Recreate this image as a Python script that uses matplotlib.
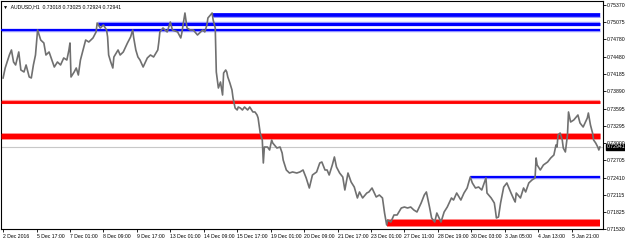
"""
Plot of the AUDUSD H1 chart with the support / resistance levels.
The price path is read by hand from the screenshot (one sample every few bars).
"""
import matplotlib
matplotlib.use('Agg')
import matplotlib.pyplot as plt

# bar index (hours of trading) and close price
bars = [0, 2, 6, 8, 10, 12, 15, 17, 20, 22, 25, 27, 29, 31, 33, 36, 39, 41, 44, 46,
        49, 52, 55, 58, 61, 63, 64, 65, 68, 70, 72, 74, 76, 79, 82, 86, 89, 90, 93, 96,
        99, 100, 101, 103, 105, 106, 110, 112, 115, 119, 122, 124, 125, 127, 129, 131, 134, 138, 141, 144,
        148, 149, 150, 153, 157, 160, 162, 167, 170, 171, 174, 176, 179, 182, 186, 189, 191, 193, 195, 196,
        200, 201, 203, 204, 205, 206, 208, 210, 211, 213, 214, 215, 217, 219, 220, 222, 224, 225, 227, 229,
        231, 234, 236, 239, 241, 243, 244, 246, 248, 249, 250, 253, 255, 257, 258, 262, 265, 267, 268, 271,
        274, 277, 281, 284, 287, 290, 293, 296, 300, 303, 305, 308, 310, 312, 315, 317, 319, 322, 325, 327,
        330, 333, 336, 339, 341, 344, 348, 350, 353, 357, 360, 363, 365, 367, 368, 371, 374, 377, 381, 384,
        387, 390, 393, 396, 400, 403, 405, 408, 410, 413, 415, 419, 422, 425, 429, 431, 434, 438, 441, 444,
        447, 449, 452, 455, 458, 462, 463, 467, 470, 471, 472, 474, 476, 479, 482, 486, 489, 490, 491, 495,
        498, 500, 503, 506, 509, 510, 511, 514, 517, 521, 524, 527, 529, 530, 531, 533, 535, 536, 538, 540,
        541, 543, 546, 550, 552, 555, 559, 560, 562, 564, 565, 567, 569, 570, 571]
prices = [0.74120, 0.74291, 0.74514, 0.74600, 0.74394, 0.74343, 0.74566, 0.74257, 0.74223, 0.74343,
          0.74137, 0.74120, 0.74343, 0.74514, 0.74943, 0.74771, 0.74720, 0.74514, 0.74566, 0.74463,
          0.74308, 0.74394, 0.74343, 0.74463, 0.74428, 0.74600, 0.74720, 0.74137, 0.74223, 0.74291,
          0.74171, 0.74428, 0.74566, 0.74771, 0.74737, 0.74806, 0.74909, 0.75063, 0.74977, 0.75029,
          0.74943, 0.74823, 0.74514, 0.74394, 0.74291, 0.74480, 0.74600, 0.74514, 0.74566, 0.74720,
          0.74823, 0.74943, 0.74806, 0.74600, 0.74480, 0.74428, 0.74308, 0.74463, 0.74514, 0.74480,
          0.74600, 0.74737, 0.74909, 0.74977, 0.74909, 0.75080, 0.74943, 0.74909, 0.74806, 0.74891,
          0.75234, 0.74977, 0.74943, 0.74943, 0.74857, 0.74909, 0.74943, 0.74909, 0.75029, 0.75149,
          0.75234, 0.75114, 0.74977, 0.74223, 0.74085, 0.73948, 0.74051, 0.73828, 0.74205, 0.74257,
          0.74223, 0.74137, 0.74034, 0.73914, 0.73777, 0.73605, 0.73571, 0.73622, 0.73605, 0.73571,
          0.73622, 0.73571, 0.73622, 0.73537, 0.73537, 0.73485, 0.73434, 0.73176, 0.73056, 0.72662,
          0.72936, 0.72936, 0.72885, 0.73056, 0.73005, 0.72919, 0.72936, 0.72833, 0.72713, 0.72542,
          0.72490, 0.72508, 0.72490, 0.72508, 0.72542, 0.72405, 0.72233, 0.72456, 0.72508, 0.72662,
          0.72679, 0.72542, 0.72542, 0.72456, 0.72628, 0.72765, 0.72593, 0.72490, 0.72422, 0.72199,
          0.72490, 0.72336, 0.72250, 0.72062, 0.72165, 0.72062, 0.72147, 0.72165, 0.72233, 0.72079,
          0.72113, 0.72062, 0.71804, 0.71599, 0.71684, 0.71650, 0.71770, 0.71770, 0.71890, 0.71907,
          0.71890, 0.71907, 0.71856, 0.71822, 0.71976, 0.72113, 0.72165, 0.71907, 0.71719, 0.71650,
          0.71804, 0.71650, 0.71822, 0.71907, 0.72062, 0.72027, 0.72147, 0.72027, 0.72147, 0.72233,
          0.72422, 0.72319, 0.72233, 0.72250, 0.72199, 0.72405, 0.72147, 0.72062, 0.71976, 0.71856,
          0.71719, 0.71736, 0.71976, 0.72250, 0.72319, 0.72147, 0.72027, 0.71993, 0.72147, 0.72062,
          0.72233, 0.72165, 0.72319, 0.72370, 0.72405, 0.72748, 0.72628, 0.72542, 0.72628, 0.72679,
          0.72748, 0.72799, 0.72971, 0.72936, 0.73142, 0.73176, 0.73056, 0.72919, 0.72851, 0.73142,
          0.73537, 0.73365, 0.73399, 0.73485, 0.73348, 0.73279, 0.73434, 0.73519, 0.73314, 0.73176,
          0.73056, 0.73005, 0.72936, 0.72885, 0.72936]

# horizontal levels drawn on the chart
level_prices = [0.75200, 0.75046, 0.74943, 0.73708, 0.73130, 0.72422, 0.71633]
level_starts = [201, 91, -2, -2, -2, 447, 367]
level_colors = ['#0000ff', '#0000ff', '#0000ff', '#ff0000', '#ff0000', '#0000ff', '#ff0000']
level_widths = [2.6, 2.2, 1.5, 2.0, 3.8, 1.5, 4.6]
last_bar = 571

ohlc_text = 'AUDUSD,H1  0.73018 0.73025 0.72924 0.72941'
close_price = 0.72941

ytick_values = [0.75370, 0.75075, 0.74780, 0.74480, 0.74185, 0.73890, 0.73595,
                0.73295, 0.73000, 0.72705, 0.72410, 0.72115, 0.71825, 0.71530]
xtick_bars = [0, 32, 64, 96, 128, 160, 192, 224, 256, 288, 320, 352, 384, 416, 448, 480, 512, 544]
xtick_labels = ['2 Dec 2016', '5 Dec 17:00', '7 Dec 01:00', '8 Dec 09:00', '9 Dec 17:00',
                '13 Dec 01:00', '14 Dec 09:00', '15 Dec 17:00', '19 Dec 01:00', '20 Dec 09:00',
                '21 Dec 17:00', '23 Dec 01:00', '27 Dec 11:00', '28 Dec 19:00', '30 Dec 03:00',
                '3 Jan 05:00', '4 Jan 13:00', '5 Jan 21:00']

FONT = 'Liberation Sans'
FS = 3.7


def main():
    plt.rcParams['font.family'] = [FONT, 'DejaVu Sans']
    fig = plt.figure(figsize=(6.25, 2.43), dpi=100)
    ax = fig.add_axes([1 / 625, 14 / 243, 602 / 625, 228 / 243])

    # close price line
    ax.axhline(close_price, color='#c8c8c8', lw=0.8, zorder=1)

    # levels (light halo under each one)
    for p, s, c, w in zip(level_prices, level_starts, level_colors, level_widths):
        halo = '#9a9aff' if c == '#0000ff' else '#ff9a9a'
        ax.plot([s, last_bar], [p, p], color=halo, lw=w + 1.0, solid_capstyle='butt', zorder=2)
        ax.plot([s, last_bar], [p, p], color=c, lw=w, solid_capstyle='butt', zorder=3)

    # price
    ax.plot(bars, prices, color='#707070', lw=1.2, zorder=4)

    ax.set_xlim(-2, 574)
    ax.set_ylim(0.71530, 0.75440)

    ax.yaxis.tick_right()
    ax.set_yticks(ytick_values)
    ax.set_yticklabels(['%.5f' % v for v in ytick_values])
    ax.set_xticks(xtick_bars)
    ax.set_xticklabels(xtick_labels, ha='left')
    ax.tick_params(axis='both', labelsize=FS, length=2, width=0.6, pad=0.8, colors='black')
    ax.tick_params(axis='x', pad=1.5)
    for sp in ax.spines.values():
        sp.set_linewidth(0.8)

    ax.text(0.004, 0.985, '\u25bc  ' + ohlc_text, transform=ax.transAxes,
            fontsize=FS, va='top', ha='left')

    # current price box on the price scale
    ax.text(1.006, close_price, '%.5f' % close_price, transform=ax.get_yaxis_transform(),
            fontsize=FS, color='white', va='center', ha='left',
            bbox=dict(boxstyle='square,pad=0.12', fc='black', ec='black'))

    fig.savefig('out.png', dpi=100)
    plt.close(fig)


if __name__ == '__main__':
    main()
